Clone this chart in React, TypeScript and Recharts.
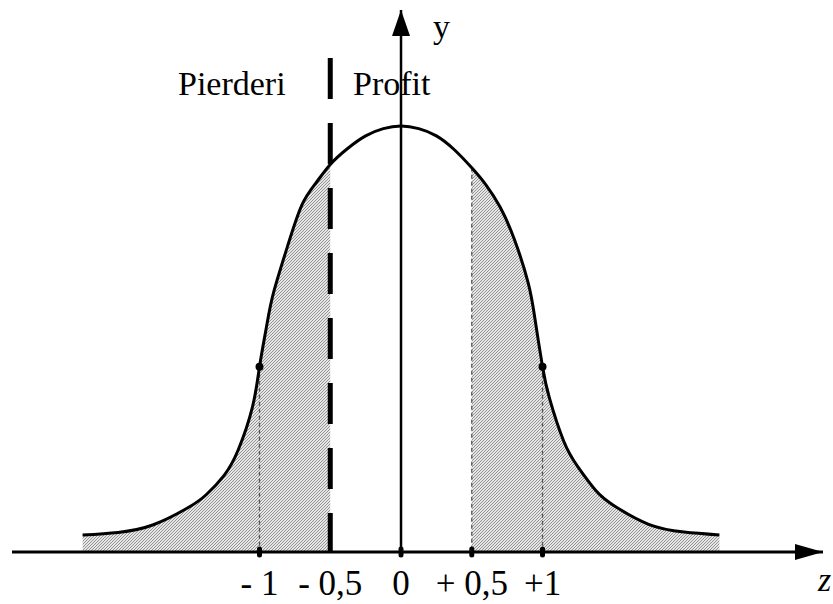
import {
  ComposedChart,
  Area,
  Line,
  XAxis,
  YAxis,
  ReferenceLine,
  ReferenceDot,
} from 'recharts'

// bell curve read point by point, z on the horizontal axis, height relative to the peak
const zValues = [
  -2.25, -2, -1.75, -1.5, -1.375, -1.25, -1.15, -1.05, -1, -0.95, -0.9, -0.8, -0.7, -0.6,
  -0.5, -0.375, -0.25, -0.125, 0, 0.125, 0.25, 0.375, 0.5, 0.6, 0.7, 0.8, 0.9, 0.95, 1,
  1.05, 1.15, 1.25, 1.375, 1.5, 1.75, 2, 2.25,
]
const yValues = [
  0.04, 0.046, 0.064, 0.105, 0.135, 0.18, 0.24, 0.34, 0.435, 0.53, 0.61, 0.72, 0.815, 0.867,
  0.91, 0.948, 0.977, 0.994, 1, 0.994, 0.977, 0.945, 0.902, 0.862, 0.81, 0.735, 0.63, 0.54, 0.435,
  0.36, 0.26, 0.2, 0.145, 0.11, 0.065, 0.047, 0.04,
]

const tickValues = [-1, -0.5, 0, 0.5, 1]
const tickLabels = ['- 1', '- 0,5', '0', '+ 0,5', '+1']
const axisMarks = [-1, 0, 0.5, 1]
const guideLines = [-1, 0.5, 1]
const pointMarks = [-1, 1]
const lossLimit = -0.5
const profitLimit = 0.5

const X_MIN = -2.749
const X_MAX = 2.982
const Y_MAX = 1.2726
const DASH_TOP = 1.16

const curveAt = (z: number) => yValues[zValues.indexOf(z)]

const data = zValues.map((z, i) => ({
  z,
  y: yValues[i],
  loss: z <= lossLimit ? yValues[i] : null,
  profit: z >= profitLimit ? yValues[i] : null,
}))

const serif = { fontFamily: 'Liberation Serif, Times New Roman, serif' }

const UpArrow = (p: any) => (
  <path d={`M${p.cx},${p.cy} L${p.cx - 9},${p.cy + 26} L${p.cx + 9},${p.cy + 26} Z`} fill="#000" />
)
const RightArrow = (p: any) => (
  <path d={`M${p.cx},${p.cy} L${p.cx - 28},${p.cy - 8} L${p.cx - 28},${p.cy + 8} Z`} fill="#000" />
)
const AxisMark = (p: any) => (
  <rect x={p.cx - 2.5} y={p.cy - 5.5} width={5} height={11} rx={2.5} fill="#000" />
)

const TickText = (p: any) => {
  const i = tickValues.indexOf(p.payload.value)
  return (
    <text x={p.x} y={p.y} dy={35} textAnchor="middle" style={serif} fontSize={35} fill="#000">
      {tickLabels[i]}
    </text>
  )
}

export default function App() {
  return (
    <div style={{ position: 'absolute', left: 0, top: 0, background: '#fff' }}>
      <ComposedChart
        width={833}
        height={604}
        data={data}
        margin={{ top: 10, right: 10, left: 12, bottom: 0 }}
      >
        <defs>
          <pattern id="hatch" patternUnits="userSpaceOnUse" width={3} height={3}>
            <rect width={3} height={3} fill="#e6e6e6" />
            <path d="M-1,1 L1,-1 M0,3 L3,0 M2,4 L4,2" stroke="#8a8a8a" strokeWidth={0.9} />
          </pattern>
        </defs>
        <XAxis
          type="number"
          dataKey="z"
          domain={[X_MIN, X_MAX]}
          allowDataOverflow
          ticks={tickValues}
          interval={0}
          axisLine={false}
          tickLine={false}
          height={52}
          tick={<TickText />}
        />
        <YAxis hide domain={[0, Y_MAX]} allowDataOverflow />

        <Area
          dataKey="loss"
          type="natural"
          stroke="none"
          fill="url(#hatch)"
          fillOpacity={1}
          isAnimationActive={false}
          activeDot={false}
        />
        <Area
          dataKey="profit"
          type="natural"
          stroke="none"
          fill="url(#hatch)"
          fillOpacity={1}
          isAnimationActive={false}
          activeDot={false}
        />

        {guideLines.map((z) => (
          <ReferenceLine
            key={z}
            segment={[{ x: z, y: curveAt(z) }, { x: z, y: 0 }]}
            stroke="#555"
            strokeWidth={1.3}
            strokeDasharray="4 3"
          />
        ))}

        <ReferenceLine
          segment={[{ x: lossLimit, y: DASH_TOP }, { x: lossLimit, y: 0 }]}
          stroke="#000"
          strokeWidth={5}
          strokeDasharray="41 24"
        />

        <Line
          dataKey="y"
          type="natural"
          stroke="#000"
          strokeWidth={3}
          dot={false}
          activeDot={false}
          isAnimationActive={false}
        />

        <ReferenceLine x={0} stroke="#000" strokeWidth={2.5} />
        <ReferenceLine y={0} stroke="#000" strokeWidth={3} />
        <ReferenceDot x={0} y={Y_MAX} ifOverflow="visible" shape={<UpArrow />} />
        <ReferenceDot x={X_MAX} y={0} ifOverflow="visible" shape={<RightArrow />} />

        {axisMarks.map((z) => (
          <ReferenceDot key={z} x={z} y={0} ifOverflow="visible" shape={<AxisMark />} />
        ))}
        {pointMarks.map((z) => (
          <ReferenceDot key={z} x={z} y={curveAt(z)} r={4} fill="#000" stroke="none" />
        ))}

        <text x={178} y={95} style={serif} fontSize={34} fill="#000">Pierderi</text>
        <text x={353} y={95} style={serif} fontSize={34} fill="#000">Profit</text>
        <text x={433} y={38} style={serif} fontSize={34} fill="#000">y</text>
        <text x={818} y={591} style={serif} fontSize={34} fontStyle="italic" fill="#000">z</text>
      </ComposedChart>
    </div>
  )
}
